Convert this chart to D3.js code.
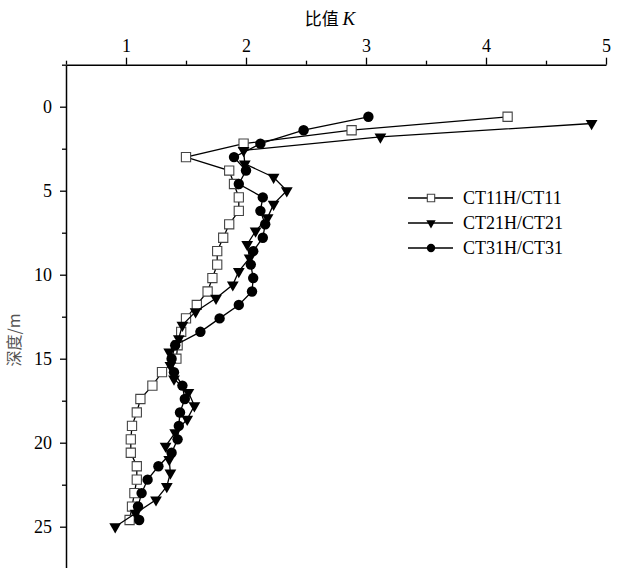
<!DOCTYPE html>
<html>
<head>
<meta charset="utf-8">
<script src="https://cdn.jsdelivr.net/npm/d3@7"></script>
<style>
  body { margin: 0; background: #fff; }
  svg { display: block; }
</style>
</head>
<body>
<svg id="chart" width="623" height="568"></svg>
<script>
// Sampling depths (m) for the CT11 / CT31 ratio profiles
const depthA = [0.6, 1.4, 2.2, 3.0, 3.8, 4.6, 5.4, 6.2, 7.0, 7.8, 8.6, 9.4, 10.2, 11.0, 11.8, 12.6,
  13.4, 14.2, 15.0, 15.8, 16.6, 17.4, 18.2, 19.0, 19.8, 20.6, 21.4, 22.2, 23.0, 23.8, 24.6];
// Sampling depths (m) for the CT21 ratio profile
const depthB = [1.0, 1.8, 2.6, 3.4, 4.2, 5.0, 5.8, 6.6, 7.4, 8.2, 9.0, 9.8, 10.6, 11.4, 12.2, 13.0,
  13.8, 14.6, 15.4, 16.2, 17.0, 17.8, 18.6, 19.4, 20.2, 21.0, 21.8, 22.6, 23.4, 24.2, 25.0];

// Ratio K for each profile
const kCT11 = [4.18, 2.88, 1.98, 1.50, 1.86, 1.90, 1.94, 1.94, 1.86, 1.81, 1.76, 1.76, 1.72, 1.68, 1.59, 1.50,
  1.46, 1.43, 1.42, 1.30, 1.22, 1.12, 1.09, 1.05, 1.04, 1.04, 1.09, 1.09, 1.07, 1.05, 1.03];
const kCT21 = [4.88, 3.12, 1.98, 1.99, 2.23, 2.34, 2.23, 2.18, 2.08, 2.01, 2.03, 1.94, 1.89, 1.75, 1.58, 1.47,
  1.44, 1.36, 1.37, 1.40, 1.52, 1.57, 1.51, 1.41, 1.33, 1.36, 1.37, 1.34, 1.25, 1.08, 0.91];
const kCT31 = [3.02, 2.48, 2.12, 1.90, 2.00, 1.94, 2.14, 2.12, 2.16, 2.14, 2.06, 2.04, 2.06, 2.05, 1.94, 1.78,
  1.62, 1.41, 1.38, 1.40, 1.47, 1.49, 1.45, 1.44, 1.43, 1.38, 1.27, 1.18, 1.13, 1.10, 1.11];

const seriesNames = ["CT11H/CT11", "CT21H/CT21", "CT31H/CT31"];
const xTicks = [1, 2, 3, 4, 5];
const xMinorTicks = [0.5, 1.5, 2.5, 3.5, 4.5];
const yTicks = [0, 5, 10, 15, 20, 25];
const yMinorTicks = [-2.5, 2.5, 7.5, 12.5, 17.5, 22.5, 27.5];

const serif = "'Liberation Serif', 'Times New Roman', serif";
const cjk = "'Noto Sans CJK SC', sans-serif";

const svg = d3.select("#chart");

const x = d3.scaleLinear().domain([0.5, 5]).range([66, 606]);
const y = d3.scaleLinear().domain([-2.5, 27.5]).range([64.7, 568.7]);

// Top (K) axis
const gx = svg.append("g").attr("transform", `translate(0,${y(-2.5)})`);
gx.call(d3.axisTop(x).tickValues(xTicks).tickSize(7).tickSizeOuter(0).tickPadding(6)
  .tickFormat(d3.format("d")));
const gxm = svg.append("g").attr("transform", `translate(0,${y(-2.5)})`);
gxm.call(d3.axisTop(x).tickValues(xMinorTicks).tickSize(4).tickSizeOuter(0).tickFormat(""));
gxm.select(".domain").remove();

// Left (depth) axis
const gy = svg.append("g").attr("transform", `translate(${x(0.5)},0)`);
gy.call(d3.axisLeft(y).tickValues(yTicks).tickSize(6).tickSizeOuter(0).tickPadding(8)
  .tickFormat(d3.format("d")));
const gym = svg.append("g").attr("transform", `translate(${x(0.5)},0)`);
gym.call(d3.axisLeft(y).tickValues(yMinorTicks).tickSize(4).tickSizeOuter(0).tickFormat(""));
gym.select(".domain").remove();

svg.selectAll(".domain").attr("stroke", "#000").attr("stroke-width", 1.5);
svg.selectAll(".tick line").attr("stroke", "#000").attr("stroke-width", 1.3);
svg.selectAll(".tick text").attr("font-family", serif).attr("font-size", 18).attr("fill", "#000");

// Axis titles
const title = svg.append("text")
  .attr("x", 330).attr("y", 25)
  .attr("text-anchor", "middle")
  .attr("font-size", 17)
  .attr("fill", "#000");
title.append("tspan").attr("font-family", cjk).text("比值 ");
title.append("tspan").attr("font-family", serif).attr("font-style", "italic").attr("font-size", 19).text("K");

svg.append("text")
  .attr("transform", "translate(20,340) rotate(-90)")
  .attr("text-anchor", "middle")
  .attr("font-family", cjk)
  .attr("font-size", 16)
  .attr("fill", "#555")
  .text("深度/m");

// Series
const series = [
  { name: seriesNames[0], depth: depthA, k: kCT11, marker: "square" },
  { name: seriesNames[1], depth: depthB, k: kCT21, marker: "triangle" },
  { name: seriesNames[2], depth: depthA, k: kCT31, marker: "circle" }
];

const line = d3.line().x(d => x(d.k)).y(d => y(d.d));

function drawMarker(g, type, scale) {
  if (type === "square") {
    g.append("path")
      .attr("d", d3.symbol(d3.symbolSquare, 85 * scale * scale)())
      .attr("fill", "#fff").attr("stroke", "#444").attr("stroke-width", 1.1);
  } else if (type === "triangle") {
    g.append("path")
      .attr("d", d3.symbol(d3.symbolTriangle, 60 * scale * scale)())
      .attr("transform", "rotate(180)")
      .attr("fill", "#000");
  } else {
    g.append("path")
      .attr("d", d3.symbol(d3.symbolCircle, 85 * scale * scale)())
      .attr("fill", "#000");
  }
}

series.forEach(s => {
  const pts = s.depth.map((d, i) => ({ d: d, k: s.k[i] }));
  const g = svg.append("g");
  g.append("path")
    .datum(pts)
    .attr("d", line)
    .attr("fill", "none")
    .attr("stroke", "#000")
    .attr("stroke-width", 1.3);
  g.selectAll("g.pt").data(pts).join("g")
    .attr("class", "pt")
    .attr("transform", d => `translate(${x(d.k)},${y(d.d)})`)
    .each(function () { drawMarker(d3.select(this), s.marker, 1); });
});

// Legend
const legend = svg.append("g");
series.forEach((s, i) => {
  const ly = 198 + i * 25;
  const row = legend.append("g");
  row.append("line")
    .attr("x1", 408).attr("x2", 453).attr("y1", ly).attr("y2", ly)
    .attr("stroke", "#000").attr("stroke-width", 1.3);
  const m = row.append("g").attr("transform", `translate(431,${ly})`);
  drawMarker(m, s.marker, 0.8);
  row.append("text")
    .attr("x", 463).attr("y", ly + 6)
    .attr("font-family", serif)
    .attr("font-size", 18)
    .attr("fill", "#000")
    .text(s.name);
});
</script>
</body>
</html>
